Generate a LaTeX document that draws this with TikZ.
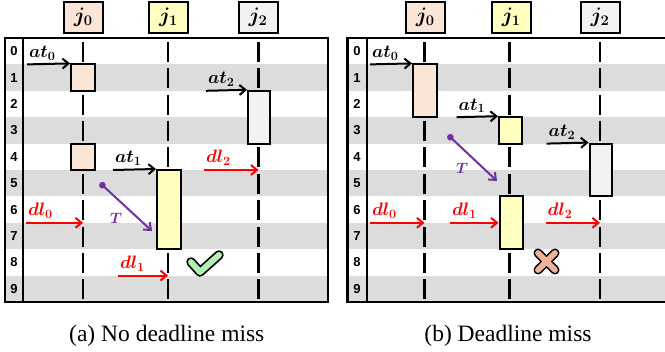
\RequirePackage{fix-cm}
\documentclass[tikz,border=0pt]{standalone}
\usepackage{fontspec}
\setmainfont{Liberation Serif}
\newfontfamily\numfont{Liberation Sans}
\usepackage{bm}
\usetikzlibrary{arrows.meta}

\definecolor{jobzero}{RGB}{251,229,214}
\definecolor{jobone}{RGB}{255,255,192}
\definecolor{jobtwo}{RGB}{242,242,242}
\definecolor{rowgray}{RGB}{220,220,220}
\definecolor{tpurple}{RGB}{112,48,160}
\definecolor{okgreen}{RGB}{178,240,178}
\definecolor{misssalmon}{RGB}{244,177,150}

\tikzset{
  gridframe/.style={line width=2.4pt},
  rownum/.style={font=\numfont\bfseries\fontsize{13}{15}\selectfont, inner sep=0pt},
  jobline/.style={line width=2.3pt, dash pattern=on 20pt off 6.4pt, dash phase=22.6pt},
  head/.style={draw, line width=2pt, minimum width=39pt, minimum height=31pt,
    inner sep=0pt, font=\fontsize{21}{23}\selectfont},
  jobbox/.style={draw, line width=2pt, minimum width=24pt, inner sep=0pt},
  arr/.style={line width=2pt, -{Straight Barb[length=6pt,width=10pt]}},
  lbl/.style={inner sep=0pt, anchor=base west, font=\fontsize{18}{20}\selectfont},
  tarr/.style={tpurple, line width=2pt, {Circle[length=6.5pt]}-{Straight Barb[length=6pt,width=10pt]}},
  tlbl/.style={tpurple, inner sep=0pt, font=\fontsize{15}{17}\selectfont},
  captext/.style={inner sep=0pt, anchor=base, font=\fontsize{23.5}{26}\selectfont},
}

\begin{document}
\begin{tikzpicture}[x=1pt,y=-1pt]
  \useasboundingbox (0,0) rectangle (665,352);

  % (a) no deadline miss
  \foreach \r in {1,3,5,7,9}
    \fill[rowgray] (5,{38+26.4*\r}) rectangle (328,{64.4+26.4*\r});
  \foreach \r in {0,...,9}
    \node[rownum] (ln\r) at (14,{51.2+26.4*\r}) {\r};
  \draw[gridframe] (5,38) rectangle (328,302);
  \draw[gridframe] (23,38) -- (23,302);

  \node[head, fill=jobzero] (lh0) at (83.3,17.5) {$\bm{j_0}$};
  \node[head, fill=jobone]  (lh1) at (168.5,17.5) {$\bm{j_1}$};
  \node[head, fill=jobtwo]  (lh2) at (258,17.5) {$\bm{j_2}$};

  \draw[jobline] (83,38) -- (83,302);
  \draw[jobline] (168,38) -- (168,302);
  \draw[jobline] (258.5,38) -- (258.5,302);

  \node[jobbox, fill=jobzero, minimum height=26.4pt] (la0) at (83,77.6) {};
  \node[jobbox, fill=jobzero, minimum height=26.4pt] (lb0) at (83,156.8) {};
  \node[jobbox, fill=jobone, minimum height=79.2pt] (la1) at (169,209.6) {};
  \node[jobbox, fill=jobtwo, minimum height=52.8pt, minimum width=22pt] (la2) at (259,117.2) {};

  \coordinate (lat0) at (27,64.4);
  \coordinate (lat1) at (113,170);
  \coordinate (lat2) at (206,90.8);
  \coordinate (ldl0) at (26,222.8);
  \coordinate (ldl1) at (118,275.6);
  \coordinate (ldl2) at (204,170);
  \coordinate (ld0) at (83,222.8);
  \coordinate (ld1) at (168,275.6);
  \coordinate (ld2) at (258.5,170);
  \coordinate (lts) at (100,183);
  \coordinate (lte) at (152,231);

  \draw[arr] (lat0) -- node[lbl, pos=0, xshift=1pt, yshift=7pt] (lt0) {$\bm{at_0}$} (la0.north west);
  \draw[arr] (lat2) -- node[lbl, pos=0, xshift=1pt, yshift=7pt] (lt2) {$\bm{at_2}$} (la2.north west);
  \draw[arr] (lat1) -- node[lbl, pos=0, xshift=1pt, yshift=7pt] (lt1) {$\bm{at_1}$} (la1.north west);
  \draw[arr, red] (ldl2) -- node[lbl, pos=0, xshift=1pt, yshift=7pt] (lq2) {$\bm{dl_2}$} (ld2);
  \draw[arr, red] (ldl0) -- node[lbl, pos=0, xshift=1pt, yshift=7pt] (lq0) {$\bm{dl_0}$} (ld0);
  \draw[arr, red] (ldl1) -- node[lbl, pos=0, xshift=1pt, yshift=7pt] (lq1) {$\bm{dl_1}$} (ld1);
  \draw[tarr] (lts) -- (lte);
  \node[tlbl] (lT) at (116,218) {$\bm{T}$};

  % check mark
  \draw[line width=9.5pt, line cap=round, line join=round] (191,262) -- (200,272) -- (219,255);
  \draw[okgreen, line width=6pt, line cap=round, line join=round] (191,262) -- (200,272) -- (219,255);

  \node[captext] (capa) at (166.8,341.7) {(a) No deadline miss};

  % (b) deadline miss
  \foreach \r in {1,3,5,7,9}
    \fill[rowgray] (347.5,{38+26.4*\r}) rectangle (668,{64.4+26.4*\r});
  \foreach \r in {0,...,9}
    \node[rownum] (rn\r) at (357,{51.2+26.4*\r}) {\r};
  \draw[gridframe] (347.5,38) rectangle (668,302);
  \draw[gridframe] (366.7,38) -- (366.7,302);

  \node[head, fill=jobzero] (rh0) at (425.3,17.5) {$\bm{j_0}$};
  \node[head, fill=jobone]  (rh1) at (511.3,17.5) {$\bm{j_1}$};
  \node[head, fill=jobtwo]  (rh2) at (600,17.5) {$\bm{j_2}$};

  \draw[jobline] (424.5,38) -- (424.5,302);
  \draw[jobline] (509.5,38) -- (509.5,302);
  \draw[jobline] (600,38) -- (600,302);

  \node[jobbox, fill=jobzero, minimum height=52.8pt] (ra0) at (425,90.8) {};
  \node[jobbox, fill=jobone, minimum height=26.4pt, minimum width=23pt] (ra1) at (510.5,130.4) {};
  \node[jobbox, fill=jobone, minimum height=52.8pt, minimum width=23pt] (rb1) at (511,222.8) {};
  \node[jobbox, fill=jobtwo, minimum height=52.8pt, minimum width=22pt] (ra2) at (600.5,170) {};

  \coordinate (rat0) at (370,64.4);
  \coordinate (rat1) at (456.7,117.2);
  \coordinate (rat2) at (546.7,143.6);
  \coordinate (rdl0) at (370,222.8);
  \coordinate (rdl1) at (450,222.8);
  \coordinate (rdl2) at (545.7,222.8);
  \coordinate (rd0) at (424.5,222.8);
  \coordinate (rd2) at (600,222.8);
  \coordinate (rts) at (448,135);
  \coordinate (rte) at (497,181);

  \draw[arr] (rat0) -- node[lbl, pos=0, xshift=1pt, yshift=7pt] (rt0) {$\bm{at_0}$} (ra0.north west);
  \draw[arr] (rat1) -- node[lbl, pos=0, xshift=1pt, yshift=7pt] (rt1) {$\bm{at_1}$} (ra1.north west);
  \draw[arr] (rat2) -- node[lbl, pos=0, xshift=1pt, yshift=7pt] (rt2) {$\bm{at_2}$} (ra2.north west);
  \draw[arr, red] (rdl0) -- node[lbl, pos=0, xshift=1pt, yshift=7pt] (rq0) {$\bm{dl_0}$} (rd0);
  \draw[arr, red] (rdl1) -- node[lbl, pos=0, xshift=1pt, yshift=7pt] (rq1) {$\bm{dl_1}$} (rb1.west);
  \draw[arr, red] (rdl2) -- node[lbl, pos=0, xshift=1pt, yshift=7pt] (rq2) {$\bm{dl_2}$} (rd2);
  \draw[tarr] (rts) -- (rte);
  \node[tlbl] (rT) at (462,168) {$\bm{T}$};

  % cross
  \draw[line width=9pt, line cap=round] (538,253) -- (555,270) (555,253) -- (538,270);
  \draw[misssalmon, line width=5.8pt, line cap=round] (538,253) -- (555,270) (555,253) -- (538,270);

  \node[captext] (capb) at (508,341.7) {(b) Deadline miss};
\end{tikzpicture}
\end{document}
